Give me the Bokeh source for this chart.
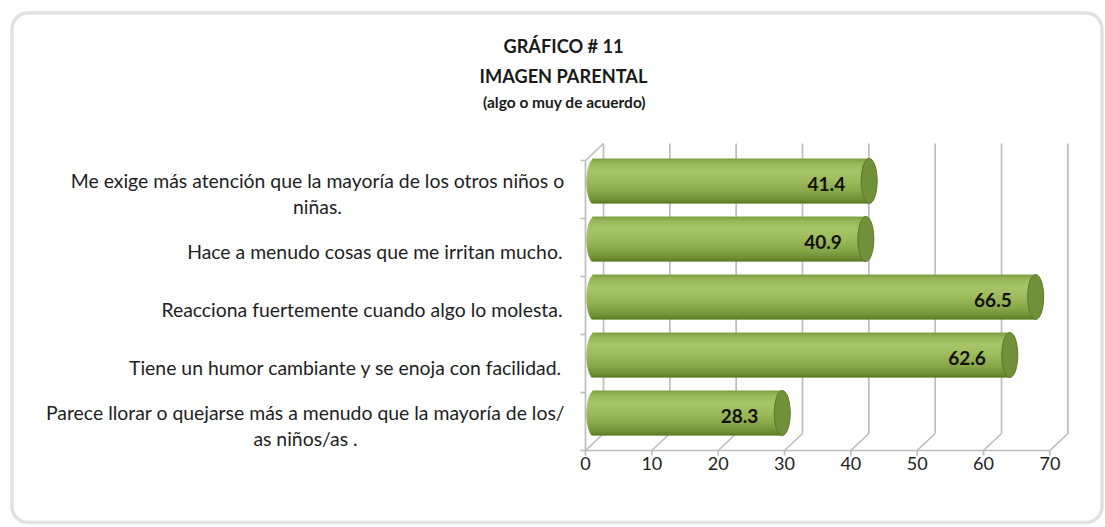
import numpy as np
from bokeh.plotting import figure
from bokeh.models import Range1d, BoxAnnotation
from bokeh.core.properties import value
from bokeh.embed import file_html
from bokeh.resources import INLINE

# ---------------- data ----------------
categories = [
    "Me exige más atención que la mayoría de los otros niños o\nniñas.",
    "Hace a menudo cosas que me irritan mucho.",
    "Reacciona fuertemente cuando algo lo molesta.",
    "Tiene un humor cambiante y se enoja con facilidad.",
    "Parece llorar o quejarse más a menudo que la mayoría de los/\nas niños/as .",
]
values = [41.4, 40.9, 66.5, 62.6, 28.3]
x_ticks = [0, 10, 20, 30, 40, 50, 60, 70]
title_lines = ["GRÁFICO # 11", "IMAGEN PARENTAL", "(algo o muy de acuerdo)"]

# ---------------- layout (pixels) ----------------
W, H = 1104, 526
X0 = 585.0      # px of value 0 (front)
SX = 6.634      # px per unit of value
YC0 = 421.0     # px (from top) of the centre of the bottom band
SY = 58.0       # px per category band
FONT = value("Lato")

def px2x(px):
    return (px - X0) / SX

def px2y(py):
    return (YC0 - py) / SY

DX = 18 / SX    # depth offset (x)
DY = 17 / SY    # depth offset (y, upward)
n = len(categories)
ycent = np.array([n - 1 - k for k in range(n)], dtype=float)
vals = np.array(values)

p = figure(width=W, height=H, output_backend="svg", toolbar_location=None,
           x_range=Range1d(-X0 / SX, (W - X0) / SX),
           y_range=Range1d((YC0 - H) / SY, YC0 / SY),
           x_axis_location=None, y_axis_location=None, min_border=0)
p.outline_line_color = None
p.background_fill_color = "white"
p.border_fill_color = "white"
p.grid.visible = False
p.xgrid.visible = False
p.ygrid.visible = False

GRID = "#bdbdbd"
GW = 1.7
lo, hi = -0.5, n - 0.5
ticks = np.array(x_ticks, dtype=float)
# back wall gridlines
p.segment(x0=ticks + DX, y0=lo + DY, x1=ticks + DX, y1=hi + DY, line_color=GRID, line_width=GW)
# floor diagonals
p.segment(x0=ticks, y0=lo, x1=ticks + DX, y1=lo + DY, line_color=GRID, line_width=GW)
# front floor line
p.segment(x0=[0], y0=[lo], x1=[ticks.max()], y1=[lo], line_color=GRID, line_width=GW)
# left wall front edge and top diagonal
p.segment(x0=[0, 0], y0=[lo, hi], x1=[0, DX], y1=[hi, hi + DY], line_color=GRID, line_width=GW)
# category ticks on the left wall
bounds = np.arange(n + 1) - 0.5
p.segment(x0=-5 / SX, y0=bounds, x1=0, y1=bounds, line_color=GRID, line_width=GW)
# value ticks below the floor
p.segment(x0=ticks, y0=lo, x1=ticks, y1=lo - 5 / SY, line_color=GRID, line_width=GW)

# tick labels
p.text(x=ticks, y=px2y(463), text=[str(t) for t in x_ticks], text_align="center",
       text_baseline="middle", text_font=FONT, text_font_size="18px", text_color="#222222")

# ---------------- cylinders ----------------
BH = 45 / SY
CW = 8 / SX
mx, my = DX / 2, DY / 2
stops_t = [0.0, 0.1, 0.28, 0.5, 0.75, 0.92, 1.0]
stops_c = ["#7d9c42", "#97b757", "#a8c669", "#9dbb5b", "#87a647", "#6f8d35", "#58741f"]

def hex2rgb(h):
    return np.array([int(h[i:i + 2], 16) for i in (1, 3, 5)], dtype=float)

rgbs = np.array([hex2rgb(c) for c in stops_c])
NS = 24
for i in range(NS):
    t = (i + 0.5) / NS
    col = [np.interp(t, stops_t, rgbs[:, j]) for j in range(3)]
    colhex = "#%02x%02x%02x" % tuple(int(round(c)) for c in col)
    u = 2 * t - 1
    left = mx - CW * np.sqrt(max(0.0, 1 - u * u))
    ytop = ycent + my + BH / 2 - i * BH / NS
    hgt = BH / NS * (1.8 if i < NS - 1 else 1.0)
    p.hbar(y=ytop - hgt / 2, left=left, right=vals + mx, height=hgt,
           fill_color=colhex, line_color=None)

p.ellipse(x=vals + mx, y=ycent + my, width=2 * CW, height=BH,
          fill_color="#71903a", line_color="#5c7828", line_width=1)

# value labels
p.text(x=vals + mx - 24 / SX, y=ycent + my - 3 / SY, text=[f"{v:.1f}" for v in values],
       text_align="right", text_baseline="middle", text_font=FONT,
       text_font_style="bold", text_font_size="19px", text_color="#111111")

# ---------------- category labels ----------------
single = [k for k, c in enumerate(categories) if "\n" not in c]
p.text(x=px2x(562), y=[ycent[k] - 4 / SY for k in single], text=[categories[k] for k in single],
       text_align="right", text_baseline="middle", text_font=FONT,
       text_font_size="19.4px", text_color="#1e1e1e")
wrapped_centers = {0: 317, 4: 305}
for k, cx in wrapped_centers.items():
    p.text(x=[px2x(cx)], y=[ycent[k] - 4 / SY], text=[categories[k]],
           text_align="center", text_baseline="middle", text_font=FONT,
           text_font_size="19.4px", text_color="#1e1e1e", text_line_height=1.15)

# ---------------- titles ----------------
p.text(x=[px2x(563)] * 2, y=[px2y(45), px2y(75)], text=title_lines[:2],
       text_align="center", text_baseline="middle", text_font=FONT,
       text_font_style="bold", text_font_size="18.2px", text_color="#1a1a1a")
p.text(x=[px2x(564)], y=[px2y(101)], text=title_lines[2:],
       text_align="center", text_baseline="middle", text_font=FONT,
       text_font_style="bold", text_font_size="15.5px", text_color="#1a1a1a")

# ---------------- rounded border ----------------
p.add_layout(BoxAnnotation(left=px2x(11.5), right=px2x(1101.5), top=px2y(12.5), bottom=px2y(522),
                           fill_alpha=0, line_color="#9a9a9a", line_width=3.5, border_radius=16))

open("out.html", "w").write(file_html(p, INLINE))
